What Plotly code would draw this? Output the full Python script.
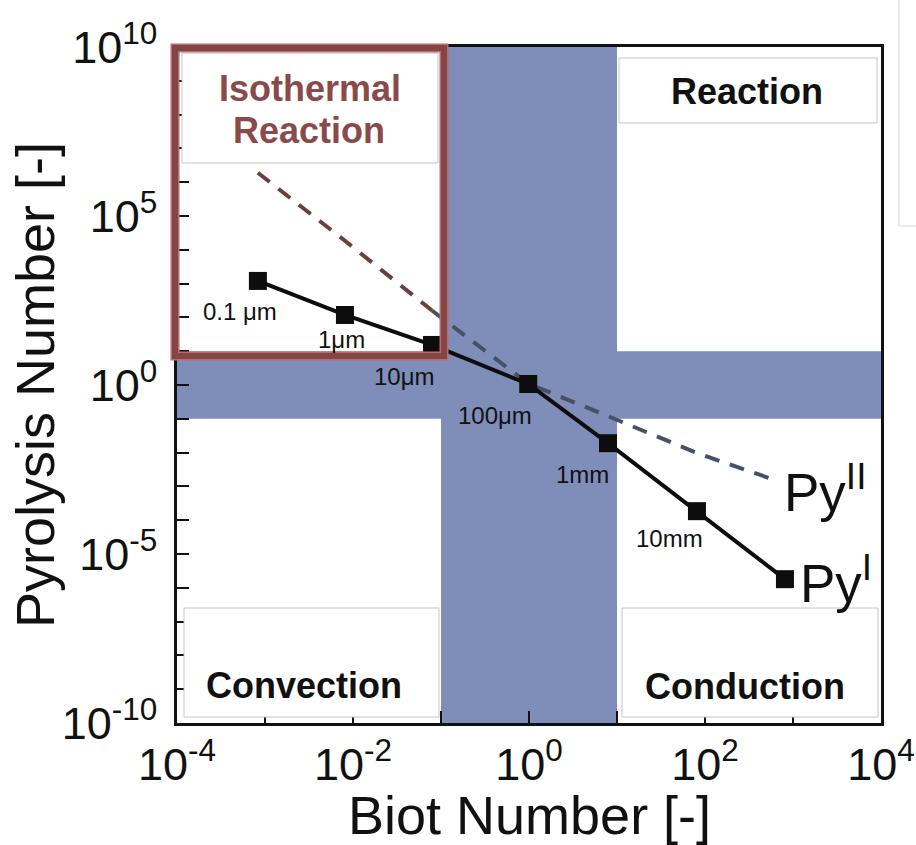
import numpy as np
import plotly.graph_objects as go

# ---- data -------------------------------------------------------------
# particle size attached to each point of the Py^I curve
size_labels = ["0.1 μm", "1μm", "10μm", "100μm", "1mm", "10mm"]

# Py^I : pyrolysis number (solid, square markers)
biot_py1 = [8.3e-4, 8.1e-3, 7.9e-2, 0.98, 7.9, 81, 810]
py1 = [1200, 118, 15.3, 1.07, 0.019, 1.85e-4, 1.8e-6]

# Py^II : pyrolysis number (dashed)
biot_py2 = [8.3e-4, 8.1e-3, 7.9e-2, 0.98, 7.9, 81, 600]
py2 = [1.9e6, 1.85e4, 160, 1.1, 0.12, 9.7e-3, 1.6e-3]

# regime boundaries (Bi and Py)
regime_low = 0.1
regime_high = 10

x_tick_vals = [1e-4, 1e-3, 1e-2, 1e-1, 1e0, 1e1, 1e2, 1e3, 1e4]
x_tick_text = ["10<sup>-4</sup>", "", "10<sup>-2</sup>", "", "10<sup>0</sup>", "",
               "10<sup>2</sup>", "", "10<sup>4</sup>"]
y_tick_vals = [1e-10, 1e-9, 1e-8, 1e-7, 1e-6, 1e-5, 1e-4, 1e-3, 1e-2, 1e-1, 1e0,
               1e1, 1e2, 1e3, 1e4, 1e5, 1e6, 1e7, 1e8, 1e9, 1e10]
y_tick_text = ["10<sup>-10</sup>", "", "", "", "", "10<sup>-5</sup>", "", "", "", "",
               "10<sup>0</sup>", "", "", "", "", "10<sup>5</sup>", "", "", "", "",
               "10<sup>10</sup>"]

# ---- layout helpers ---------------------------------------------------
W, H = 916, 845
ML, MR, MT, MB = 177, 35, 47, 122
PW, PH = W - ML - MR, H - MT - MB
FONT = "Liberation Sans, Arial, Helvetica, sans-serif"

BAND = "#7e8eb9"
BROWN = "#824646"
SLATE = "#465067"


def fx(px):
    return (px - ML) / PW


def fy(py):
    return (MT + PH - py) / PH


fig = go.Figure()

# Py^II, inside the isothermal corner (brown) and beyond it (slate)
fig.add_trace(go.Scatter(x=biot_py2[:3], y=py2[:3], mode="lines",
                         line=dict(color="#6c3e3e", width=4, dash="15px,11px"),
                         hoverinfo="skip"))
fig.add_trace(go.Scatter(x=biot_py2[2:], y=py2[2:], mode="lines",
                         line=dict(color=SLATE, width=4, dash="15px,11px"),
                         hoverinfo="skip"))
# Py^I
fig.add_trace(go.Scatter(x=biot_py1, y=py1, mode="lines+markers",
                         line=dict(color="#0d0d0d", width=4),
                         marker=dict(symbol="square", size=18, color="#0d0d0d"),
                         hoverinfo="skip"))

shapes = []
# blue cross of intermediate regimes
shapes.append(dict(type="rect", xref="x", yref="paper", x0=regime_low, x1=regime_high,
                   y0=0, y1=1, fillcolor=BAND, line=dict(width=0), layer="below"))
shapes.append(dict(type="rect", xref="paper", yref="y", x0=0, x1=1,
                   y0=regime_low, y1=regime_high, fillcolor=BAND, line=dict(width=0),
                   layer="below"))

# white caption boxes
for (x0, x1, y0, y1) in [(619, 877, 58, 123), (182, 438, 53, 163),
                         (184, 439, 608, 717), (622, 878, 608, 717)]:
    shapes.append(dict(type="rect", xref="paper", yref="paper",
                       x0=fx(x0), x1=fx(x1), y0=fy(y1), y1=fy(y0),
                       fillcolor="white", line=dict(color="#c6c6c6", width=1),
                       layer="above"))

# isothermal reaction frame
for col, wdt in [("#c06a6a", 9), (BROWN, 6)]:
    shapes.append(dict(type="rect", xref="paper", yref="paper",
                       x0=fx(175), x1=fx(444), y0=fy(356), y1=fy(48),
                       line=dict(color=col, width=wdt), fillcolor="rgba(0,0,0,0)",
                       layer="above"))

# light frame edge at the top right of the page
shapes.append(dict(type="path", xref="paper", yref="paper",
                   path=f"M {fx(899)},{fy(-5)} L {fx(899)},{fy(226)} L {fx(925)},{fy(226)}",
                   line=dict(color="#d6d6d6", width=1), layer="above"))

annotations = []
# particle-size labels next to the markers
offsets = [(-18, 31), (-3, 25), (-27, 32), (-33, 31), (-25, 31), (-27, 27)]
for lab, bx, pv, (dx, dy) in zip(size_labels, biot_py1, py1, offsets):
    annotations.append(dict(x=np.log10(bx), y=np.log10(pv), xref="x", yref="y",
                            text=lab, showarrow=False, xshift=dx, yshift=-dy,
                            font=dict(family=FONT, size=24, color="#111111")))

# curve names
annotations.append(dict(x=np.log10(biot_py1[-1]), y=np.log10(py1[-1]), xref="x", yref="y",
                        text="Py<sup>I</sup>", showarrow=False, xanchor="left",
                        xshift=13, yshift=0,
                        font=dict(family=FONT, size=53, color="#111111")))
annotations.append(dict(x=np.log10(biot_py2[-1]), y=np.log10(py2[-1]), xref="x", yref="y",
                        text="Py<sup>II</sup>", showarrow=False, xanchor="left",
                        xshift=9, yshift=-9,
                        font=dict(family=FONT, size=53, color="#111111")))

# regime captions
for txt, cx, cy, col in [("Reaction", 747, 92, "#111111"),
                         ("Isothermal", 310, 88, "#8b4a4a"),
                         ("Reaction", 309, 130, "#8b4a4a"),
                         ("Convection", 304, 685, "#111111"),
                         ("Conduction", 745, 686, "#111111")]:
    annotations.append(dict(x=fx(cx), y=fy(cy), xref="paper", yref="paper", text=f"<b>{txt}</b>",
                            showarrow=False, xanchor="center", yanchor="middle",
                            font=dict(family=FONT, size=36, color=col)))

# axis titles
annotations.append(dict(x=0.5, y=fy(815), xref="paper", yref="paper",
                        text="Biot Number [-]", showarrow=False, yanchor="middle",
                        font=dict(family=FONT, size=54, color="#111111")))
annotations.append(dict(x=fx(35), y=0.5, xref="paper", yref="paper",
                        text="Pyrolysis Number [-]", showarrow=False, textangle=-90,
                        xanchor="center", yanchor="middle",
                        font=dict(family=FONT, size=54, color="#111111")))

axis_common = dict(type="log", showgrid=False, zeroline=False, showline=True,
                   linecolor="#111111", linewidth=2.5, mirror=True, automargin=False,
                   ticks="inside", ticklen=12, tickwidth=2, tickcolor="#111111",
                   tickfont=dict(family=FONT, size=45, color="#111111"))

fig.update_layout(
    width=W, height=H,
    margin=dict(l=ML, r=MR, t=MT, b=MB),
    paper_bgcolor="white", plot_bgcolor="white",
    showlegend=False,
    xaxis=dict(range=[-4, 4], tickmode="array", tickvals=x_tick_vals,
               ticktext=x_tick_text, ticklabelstandoff=0, **axis_common),
    yaxis=dict(range=[-10, 10], tickmode="array", tickvals=y_tick_vals,
               ticktext=y_tick_text, ticklabelstandoff=8, **axis_common),
    shapes=shapes,
    annotations=annotations,
)

fig.write_html("out.html")
